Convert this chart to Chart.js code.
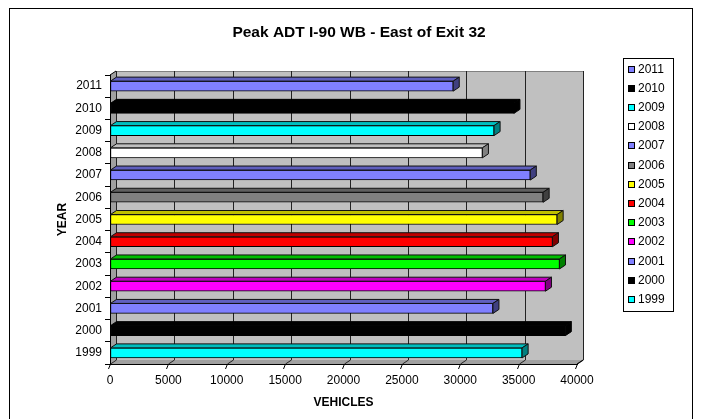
<!DOCTYPE html>
<html><head><meta charset="utf-8">
<script src="https://cdn.jsdelivr.net/npm/chart.js@4"></script>
<style>html,body{margin:0;padding:0;background:#fff;}canvas{display:block;}</style>
</head><body>
<canvas id="c" width="701" height="419"></canvas>
<script>
// ---- data ----
const years = ['1999','2000','2001','2002','2003','2004','2005','2006','2007','2008','2009','2010','2011'];
const peakADT = [35300, 39000, 32800, 37300, 38500, 37900, 38300, 37100, 36000, 31900, 32900, 34600, 29400];
const xTickValues = [0, 5000, 10000, 15000, 20000, 25000, 30000, 35000, 40000];
const chartTitle = 'Peak ADT I-90 WB - East of Exit 32';
const xAxisTitle = 'VEHICLES';
const yAxisTitle = 'YEAR';
// ---- styles ----
const barColors = ['#00FFFF','#000000','#8080FF','#FF00FF','#00FF00','#FF0000','#FFFF00','#808080','#8080FF','#FFFFFF','#00FFFF','#000000','#8080FF'];
const FONT = 'Liberation Sans, Arial, Helvetica, sans-serif';
const DX = 6, DY = 4;

function shade(hex, f) {
  const n = parseInt(hex.slice(1), 16);
  const r = Math.round(((n >> 16) & 255) * f), g = Math.round(((n >> 8) & 255) * f), b = Math.round((n & 255) * f);
  return `rgb(${r},${g},${b})`;
}
function poly(ctx, pts, fill, stroke) {
  ctx.beginPath();
  ctx.moveTo(pts[0][0], pts[0][1]);
  for (let i = 1; i < pts.length; i++) ctx.lineTo(pts[i][0], pts[i][1]);
  ctx.closePath();
  if (fill) { ctx.fillStyle = fill; ctx.fill(); }
  if (stroke) { ctx.strokeStyle = stroke; ctx.lineWidth = 1; ctx.stroke(); }
}

const walls3d = {
  id: 'walls3d',
  beforeDraw(chart) {
    const ctx = chart.ctx, a = chart.chartArea, xs = chart.scales.x;
    ctx.save();
    // frame
    ctx.strokeStyle = '#000'; ctx.lineWidth = 1;
    ctx.strokeRect(9.5, 8.5, 683, 430);
    // back wall
    poly(ctx, [[a.left + DX, a.top - DY], [a.right + DX, a.top - DY], [a.right + DX, a.bottom - DY], [a.left + DX, a.bottom - DY]], '#C0C0C0', null);
    // side wall
    poly(ctx, [[a.left, a.top], [a.left + DX, a.top - DY], [a.left + DX, a.bottom - DY], [a.left, a.bottom]], '#A0A0A0', null);
    // floor
    poly(ctx, [[a.left, a.bottom], [a.left + DX, a.bottom - DY], [a.right + DX, a.bottom - DY], [a.right, a.bottom]], '#A0A0A0', null);
    // wall outline
    ctx.strokeStyle = '#808080';
    ctx.beginPath();
    ctx.moveTo(a.left + DX, a.top - DY + 0.5); ctx.lineTo(a.right + DX + 0.5, a.top - DY + 0.5); ctx.lineTo(a.right + DX + 0.5, a.bottom - DY);
    ctx.stroke();
    // gridlines on back wall and floor, with slanted tick marks below the front edge
    ctx.strokeStyle = '#222';
    xTickValues.forEach(v => {
      const px = Math.round(xs.getPixelForValue(v)) + 0.5;
      ctx.beginPath();
      ctx.moveTo(px + DX, a.top - DY); ctx.lineTo(px + DX, a.bottom - DY);
      ctx.lineTo(px, a.bottom);
      ctx.stroke();
      ctx.strokeStyle = '#000';
      ctx.beginPath();
      ctx.moveTo(px, a.bottom); ctx.lineTo(px - 2, a.bottom + 5);
      ctx.stroke();
      ctx.strokeStyle = '#222';
    });
    // side wall outline
    ctx.strokeStyle = '#000';
    ctx.beginPath();
    ctx.moveTo(a.left, a.top); ctx.lineTo(a.left + DX, a.top - DY);
    ctx.moveTo(a.right, a.bottom); ctx.lineTo(a.right + DX, a.bottom - DY);
    ctx.stroke();
    ctx.restore();
  },
  afterDatasetsDraw(chart) {
    const ctx = chart.ctx;
    const meta = chart.getDatasetMeta(0);
    ctx.save();
    meta.data.forEach((el, i) => {
      const p = el.getProps(['x', 'y', 'base', 'height'], true);
      const t = p.y - p.height / 2, b = p.y + p.height / 2;
      const c = barColors[i];
      const line = c === '#000000' ? '#000' : '#111';
      poly(ctx, [[p.base, t], [p.x, t], [p.x + DX, t - DY], [p.base + DX, t - DY]], shade(c, 0.75), line);
      poly(ctx, [[p.x, t], [p.x + DX, t - DY], [p.x + DX, b - DY], [p.x, b]], shade(c, 0.5), line);
    });
    ctx.restore();
  },
  afterDraw(chart) {
    const ctx = chart.ctx;
    ctx.save();
    // title
    ctx.fillStyle = '#000';
    ctx.font = `bold 15.5px ${FONT}`;
    ctx.textAlign = 'center'; ctx.textBaseline = 'middle';
    ctx.fillText(chartTitle, 359, 33);
    // legend
    const lx = 623, ly = 58, lw = 50, lh = 253, step = 19.2;
    ctx.strokeStyle = '#000'; ctx.lineWidth = 1;
    ctx.strokeRect(lx + 0.5, ly + 0.5, lw, lh);
    ctx.font = `12px ${FONT}`;
    ctx.textAlign = 'left';
    for (let k = 0; k < years.length; k++) {
      const i = years.length - 1 - k;
      const cy = Math.round(ly + 10.5 + k * step);
      ctx.fillStyle = barColors[i];
      ctx.fillRect(lx + 5, cy - 3, 7, 7);
      ctx.strokeRect(lx + 5.5, cy - 2.5, 6, 6);
      ctx.fillStyle = '#000';
      ctx.fillText(years[i], lx + 15, cy + 1);
    }
    ctx.restore();
  }
};

Chart.defaults.font.family = FONT;
Chart.defaults.color = '#000';

new Chart(document.getElementById('c'), {
  type: 'bar',
  data: {
    labels: years,
    datasets: [{
      data: peakADT,
      backgroundColor: barColors,
      borderColor: '#000',
      borderWidth: 1,
      borderSkipped: false,
      barThickness: 10
    }]
  },
  options: {
    indexAxis: 'y',
    responsive: false,
    animation: false,
    layout: { padding: { top: 75, left: 50, right: 124, bottom: 0 } },
    plugins: { legend: { display: false }, tooltip: { enabled: false }, title: { display: false } },
    scales: {
      x: {
        type: 'linear', min: 0, max: 40000,
        afterBuildTicks: s => { s.ticks = xTickValues.map(v => ({ value: v })); },
        afterFit: s => { s.height = 55; },
        ticks: { font: { size: 12 }, padding: 4, maxRotation: 0, callback: v => String(v) },
        grid: { drawOnChartArea: false, drawTicks: true, tickLength: 5, color: 'rgba(0,0,0,0)' },
        border: { display: true, color: '#000' },
        title: { display: true, text: xAxisTitle, font: { size: 12, weight: 'bold' }, padding: { top: 0, bottom: 9 } }
      },
      y: {
        type: 'category', reverse: true,
        afterFit: s => { s.width = 60; },
        ticks: { font: { size: 12 }, padding: 3 },
        grid: { drawOnChartArea: false, drawTicks: true, tickLength: 5, color: '#000', offset: true },
        border: { display: true, color: '#000' },
        title: { display: true, text: yAxisTitle, font: { size: 12, weight: 'bold' }, padding: { top: 5, bottom: 0 } }
      }
    }
  },
  plugins: [walls3d]
});
</script>
</body></html>
